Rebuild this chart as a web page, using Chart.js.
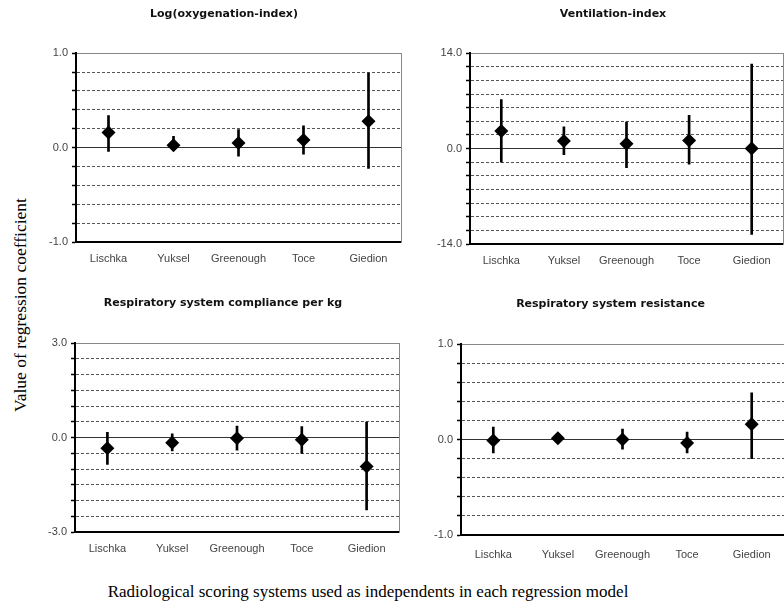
<!DOCTYPE html>
<html>
<head>
<meta charset="utf-8">
<script src="https://cdn.jsdelivr.net/npm/chart.js@4/dist/chart.umd.min.js"></script>
<style>
    html, body { margin: 0; padding: 0; background: #fff; }
    #page { position: relative; width: 784px; height: 613px; overflow: hidden; background: #fff; }
    #page canvas { position: absolute; }
    .serif { position: absolute; font-family: "Liberation Serif", "DejaVu Serif", serif; font-size: 17px; color: #000; white-space: nowrap; }
    #yTitle { left: 20px; top: 305px; transform: translate(-50%, -50%) rotate(-90deg); font-size: 17.5px; }
    #xTitle { left: 368px; top: 592px; transform: translate(-50%, -50%); }
</style>
</head>
<body>
<div id="page">
    <canvas id="oxygenationChart" width="363" height="272" style="left:45px; top:0px;"></canvas>
    <canvas id="ventilationChart" width="354" height="274" style="left:436px; top:0px;"></canvas>
    <canvas id="complianceChart" width="362" height="272" style="left:44px; top:290px;"></canvas>
    <canvas id="resistanceChart" width="361" height="274" style="left:430px; top:291px;"></canvas>
    <div id="yTitle" class="serif">Value of regression coefficient</div>
    <div id="xTitle" class="serif">Radiological scoring systems used as independents in each regression model</div>
</div>

<script>
// Scoring systems on the x axis
const scoringSystems = ['Lischka', 'Yuksel', 'Greenough', 'Toce', 'Giedion'];

// Log(oxygenation-index): coefficient with lower / upper limits
const oxygenationCoef = [0.16, 0.025, 0.05, 0.08, 0.28];
const oxygenationLow = [-0.04, -0.03, -0.09, -0.07, -0.22];
const oxygenationHigh = [0.34, 0.12, 0.19, 0.23, 0.79];

// Ventilation-index
const ventilationCoef = [2.6, 1.1, 0.7, 1.2, 0.0];
const ventilationLow = [-2.0, -0.9, -2.8, -2.3, -12.6];
const ventilationHigh = [7.2, 3.2, 3.9, 4.9, 12.4];

// Respiratory system compliance per kg
const complianceCoef = [-0.34, -0.16, -0.02, -0.07, -0.92];
const complianceLow = [-0.85, -0.42, -0.40, -0.50, -2.30];
const complianceHigh = [0.17, 0.12, 0.37, 0.35, 0.49];

// Respiratory system resistance
const resistanceCoef = [-0.01, 0.015, 0.0, -0.035, 0.16];
const resistanceLow = [-0.14, -0.035, -0.10, -0.14, -0.20];
const resistanceHigh = [0.13, 0.06, 0.11, 0.08, 0.49];

// Axis limits and grid steps per panel
const oxygenationAxis = { limit: 1.0, step: 0.2 };
const ventilationAxis = { limit: 14.0, step: 2.0 };
const complianceAxis = { limit: 3.0, step: 0.5 };
const resistanceAxis = { limit: 1.0, step: 0.2 };

const labelFont = { family: 'Arial, "Liberation Sans", sans-serif', size: 11 };
const titleFont = { family: '"DejaVu Sans", Verdana, sans-serif', size: 11, weight: 'bold' };

function isZero(v) { return Math.abs(v) < 1e-6; }

function createPanel(id, title, coef, low, high, axis, layout) {
    const ctx = document.getElementById(id)?.getContext('2d');
    if (!ctx) return;
    const lim = axis.limit;
    const isTop = v => Math.abs(v - lim) < 1e-6;
    const isBottom = v => Math.abs(v + lim) < 1e-6;

    new Chart(ctx, {
        type: 'bar',
        data: {
            labels: scoringSystems,
            datasets: [{
                // confidence range drawn as a thin floating bar
                type: 'bar',
                data: low.map((l, i) => [l, high[i]]),
                backgroundColor: '#000',
                borderWidth: 0,
                barThickness: 2,
                yAxisID: 'y',
                order: 2
            }, {
                type: 'line',
                data: coef,
                showLine: false,
                pointStyle: 'rectRot',
                pointRadius: 7,
                pointBackgroundColor: '#000',
                pointBorderWidth: 0,
                yAxisID: 'y',
                order: 1
            }]
        },
        options: {
            responsive: false,
            animation: false,
            layout: { padding: { left: 0, right: layout.padRight, top: 0, bottom: 0 } },
            plugins: {
                legend: { display: false },
                tooltip: { enabled: false },
                title: {
                    display: true,
                    text: title,
                    color: '#111',
                    font: titleFont,
                    padding: { top: layout.titleTop, bottom: layout.titleBottom }
                }
            },
            scales: {
                x: {
                    grid: { display: false, drawTicks: false },
                    border: { color: '#000', width: 2 },
                    ticks: { color: '#444', font: labelFont, padding: layout.labelPad },
                    afterFit: s => { s.height = 30; }
                },
                y: {
                    position: 'left',
                    min: -lim,
                    max: lim,
                    afterFit: s => { s.width = layout.yWidth; },
                    ticks: {
                        stepSize: axis.step,
                        autoSkip: false,
                        color: '#444',
                        font: labelFont,
                        padding: 4,
                        callback: v => (isZero(v) || isTop(v) || isBottom(v)) ? v.toFixed(1) : ''
                    },
                    grid: {
                        lineWidth: 1,
                        color: c => {
                            if (!c.tick) return '#555';
                            const v = c.tick.value;
                            if (isBottom(v)) return 'rgba(0,0,0,0)';
                            if (isTop(v)) return '#888';
                            if (isZero(v)) return '#333';
                            return '#555';
                        },
                        tickLength: 4,
                        tickColor: '#000',
                        tickWidth: 1.5
                    },
                    border: {
                        color: '#000',
                        width: 2,
                        dash: c => (c.tick && !isZero(c.tick.value) && !isTop(c.tick.value)) ? [3, 2] : []
                    }
                },
                yR: {
                    position: 'right',
                    min: -lim,
                    max: lim,
                    grid: { display: false, drawTicks: false },
                    ticks: { display: false },
                    border: { color: '#888', width: 1 },
                    afterFit: s => { s.width = 0; }
                }
            }
        }
    });
}

function initializeRegressionCharts() {
    createPanel('oxygenationChart', 'Log(oxygenation-index)',
        oxygenationCoef, oxygenationLow, oxygenationHigh, oxygenationAxis,
        { yWidth: 31, padRight: 5, titleTop: 8, titleBottom: 32, labelPad: 10 });

    createPanel('ventilationChart', 'Ventilation-index',
        ventilationCoef, ventilationLow, ventilationHigh, ventilationAxis,
        { yWidth: 34, padRight: 0, titleTop: 8, titleBottom: 32, labelPad: 10 });

    createPanel('complianceChart', 'Respiratory system compliance per kg',
        complianceCoef, complianceLow, complianceHigh, complianceAxis,
        { yWidth: 31, padRight: 4, titleTop: 7, titleBottom: 33, labelPad: 10 });

    createPanel('resistanceChart', 'Respiratory system resistance',
        resistanceCoef, resistanceLow, resistanceHigh, resistanceAxis,
        { yWidth: 31, padRight: 0, titleTop: 7, titleBottom: 33, labelPad: 13 });
}

document.addEventListener('DOMContentLoaded', initializeRegressionCharts);
</script>
</body>
</html>
